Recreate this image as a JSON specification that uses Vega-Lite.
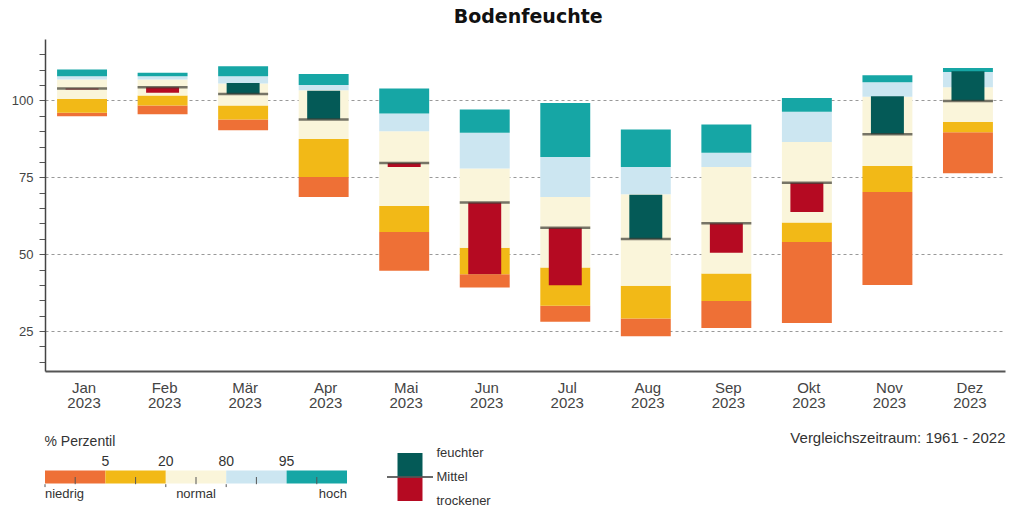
{
  "$schema": "https://vega.github.io/schema/vega-lite/v6.json",
  "background": "white",
  "padding": {"left": 11, "top": 8, "right": 5, "bottom": 5},
  "title": {"text": "Bodenfeuchte", "fontSize": 19, "fontWeight": "bold", "font": "DejaVu Sans", "color": "#111", "anchor": "middle", "offset": 12, "dx": 20},
  "config": {"view": {"stroke": null}, "font": "Liberation Sans"},
  "datasets": {
    "soil": [
      {"month": "Jan", "min": 94.9, "p5": 96.0, "p20": 100.5, "p80": 106.8, "p95": 107.9, "max": 110.1, "median": 103.9, "value": 103.6},
      {"month": "Feb", "min": 95.5, "p5": 98.4, "p20": 101.6, "p80": 106.8, "p95": 107.9, "max": 109.0, "median": 104.3, "value": 102.5},
      {"month": "Mär", "min": 90.3, "p5": 93.8, "p20": 98.4, "p80": 105.5, "p95": 107.9, "max": 111.1, "median": 102.1, "value": 105.7},
      {"month": "Apr", "min": 68.6, "p5": 75.1, "p20": 87.5, "p80": 103.3, "p95": 105.0, "max": 108.6, "median": 93.8, "value": 103.2},
      {"month": "Mai", "min": 44.6, "p5": 57.2, "p20": 65.7, "p80": 90.0, "p95": 95.8, "max": 103.9, "median": 79.7, "value": 78.4},
      {"month": "Jun", "min": 39.2, "p5": 43.5, "p20": 52.1, "p80": 77.9, "p95": 89.5, "max": 97.1, "median": 66.8, "value": 43.5},
      {"month": "Jul", "min": 28.0, "p5": 33.2, "p20": 45.7, "p80": 68.6, "p95": 81.6, "max": 99.2, "median": 58.6, "value": 39.9},
      {"month": "Aug", "min": 23.3, "p5": 29.1, "p20": 39.7, "p80": 69.5, "p95": 78.4, "max": 90.6, "median": 54.9, "value": 69.3},
      {"month": "Sep", "min": 26.0, "p5": 34.8, "p20": 43.7, "p80": 78.4, "p95": 83.0, "max": 92.2, "median": 60.1, "value": 50.5},
      {"month": "Okt", "min": 27.6, "p5": 54.0, "p20": 60.3, "p80": 86.5, "p95": 96.3, "max": 100.8, "median": 73.2, "value": 63.7},
      {"month": "Nov", "min": 40.0, "p5": 70.2, "p20": 78.7, "p80": 101.2, "p95": 105.9, "max": 108.2, "median": 89.0, "value": 101.4},
      {"month": "Dez", "min": 76.3, "p5": 89.7, "p20": 93.0, "p80": 104.3, "p95": 109.3, "max": 110.6, "median": 99.8, "value": 109.5}
    ],
    "pct": [
      {"cls": "P5", "upper": "5", "name": "niedrig"},
      {"cls": "P20", "upper": "20", "name": ""},
      {"cls": "P80", "upper": "80", "name": "normal"},
      {"cls": "P95", "upper": "95", "name": ""},
      {"cls": "P100", "upper": "", "name": "hoch"}
    ],
    "dev": [
      {"kind": "feuchter", "dev": 1},
      {"kind": "Mittel", "dev": 0},
      {"kind": "trockener", "dev": -1}
    ]
  },
  "vconcat": [
    {
      "width": 960,
      "height": 332,
      "data": {"name": "soil"},
      "encoding": {
        "x": {
          "field": "month", "type": "nominal", "sort": null,
          "scale": {"paddingInner": 0.38, "paddingOuter": 0.15},
          "axis": {
            "title": "Vergleichszeitraum: 1961 - 2022", "titleAnchor": "end", "titleFontWeight": "normal", "titleFontSize": 15, "titleColor": "#333", "titlePadding": 20,
            "labelExpr": "[datum.label, '2023']", "labelFontSize": 15, "labelColor": "#444", "labelLineHeight": 15, "labelAngle": 0, "labelOffset": 2,
            "ticks": false, "domainColor": "#555", "domainWidth": 2, "labelPadding": 9
          }
        }
      },
      "layer": [
        {
          "mark": {"type": "bar", "color": "#EE7036"},
          "encoding": {
            "y": {
              "field": "min", "type": "quantitative",
              "scale": {"domain": [12, 120], "nice": false, "zero": false},
              "axis": {
                "title": null,
                "values": [15, 20, 25, 30, 35, 40, 45, 50, 55, 60, 65, 70, 75, 80, 85, 90, 95, 100, 105, 110, 115],
                "tickCount": 40,
                "labelExpr": "datum.value % 25 === 0 ? datum.label : ''",
                "labelOverlap": false,
                "grid": true,
                "gridOpacity": {"condition": {"test": "datum.value % 25 === 0", "value": 1}, "value": 0},
                "gridDash": [3, 3], "gridColor": "#999",
                "tickSize": 6, "tickColor": "#555", "domainColor": "#444", "domainWidth": 1.5,
                "labelFontSize": 13, "labelColor": "#444", "labelPadding": 6
              }
            },
            "y2": {"field": "p5"}
          }
        },
        {"mark": {"type": "bar", "color": "#F2B917"}, "encoding": {"y": {"field": "p5", "type": "quantitative"}, "y2": {"field": "p20"}}},
        {"mark": {"type": "bar", "color": "#FAF5DA"}, "encoding": {"y": {"field": "p20", "type": "quantitative"}, "y2": {"field": "p80"}}},
        {"mark": {"type": "bar", "color": "#CCE6F1"}, "encoding": {"y": {"field": "p80", "type": "quantitative"}, "y2": {"field": "p95"}}},
        {"mark": {"type": "bar", "color": "#16A6A5"}, "encoding": {"y": {"field": "p95", "type": "quantitative"}, "y2": {"field": "max"}}},
        {
          "mark": {"type": "bar", "width": {"band": 0.66}},
          "encoding": {
            "y": {"field": "median", "type": "quantitative"},
            "y2": {"field": "value"},
            "color": {"condition": {"test": "datum.value >= datum.median", "value": "#045a57"}, "value": "#b50a22"}
          }
        },
        {
          "mark": {"type": "tick", "color": "#3d3d35", "thickness": 2.5, "size": 50},
          "encoding": {"y": {"field": "median", "type": "quantitative"}}
        }
      ]
    },
    {
      "hconcat": [
        {
          "width": 302,
          "height": 48,
          "data": {"name": "pct"},
          "title": {"text": "% Perzentil", "anchor": "start", "fontSize": 14, "fontWeight": "normal", "color": "#333", "offset": 4},
          "encoding": {
            "x": {"field": "cls", "type": "nominal", "sort": null, "scale": {"paddingInner": 0, "paddingOuter": 0}, "axis": null}
          },
          "layer": [
            {
              "mark": {"type": "rect"},
              "encoding": {
                "y": {"datum": -0.27, "type": "quantitative", "scale": {"domain": [-1, 1], "nice": false}, "axis": null},
                "y2": {"datum": 0.27},
                "color": {
                  "field": "cls", "type": "nominal", "sort": null,
                  "scale": {"domain": ["P5", "P20", "P80", "P95", "P100"], "range": ["#EE7036", "#F2B917", "#FAF5DA", "#CCE6F1", "#16A6A5"]},
                  "legend": null
                }
              }
            },
            {
              "mark": {"type": "rule", "color": "#555", "strokeWidth": 1},
              "encoding": {"y": {"datum": -0.3, "type": "quantitative"}}
            },
            {
              "transform": [{"filter": "datum.cls == 'P5' || datum.cls == 'P80' || datum.cls == 'P95'"}],
              "mark": {"type": "rule", "color": "#555", "strokeWidth": 1},
              "encoding": {
                "x": {"field": "cls", "type": "nominal", "sort": null, "bandPosition": 0},
                "y": {"datum": -0.3, "type": "quantitative"},
                "y2": {"datum": -0.42}
              }
            },
            {
              "mark": {"type": "text", "align": "center", "baseline": "middle", "fontSize": 14, "color": "#333"},
              "encoding": {
                "x": {"field": "cls", "type": "nominal", "sort": null, "bandPosition": 1},
                "y": {"datum": 0.62, "type": "quantitative"},
                "text": {"field": "upper"}
              }
            },
            {
              "transform": [{"filter": "datum.cls == 'P80'"}],
              "mark": {"type": "text", "align": "center", "baseline": "middle", "fontSize": 13, "color": "#333"},
              "encoding": {
                "y": {"datum": -0.71, "type": "quantitative"},
                "text": {"field": "name"}
              }
            },
            {
              "transform": [{"filter": "datum.cls == 'P5'"}],
              "mark": {"type": "text", "align": "left", "baseline": "middle", "fontSize": 13, "color": "#333"},
              "encoding": {
                "x": {"field": "cls", "type": "nominal", "sort": null, "bandPosition": 0},
                "y": {"datum": -0.71, "type": "quantitative"},
                "text": {"field": "name"}
              }
            },
            {
              "transform": [{"filter": "datum.cls == 'P100'"}],
              "mark": {"type": "text", "align": "right", "baseline": "middle", "fontSize": 13, "color": "#333"},
              "encoding": {
                "x": {"field": "cls", "type": "nominal", "sort": null, "bandPosition": 1},
                "y": {"datum": -0.71, "type": "quantitative"},
                "text": {"field": "name"}
              }
            }
          ]
        },
        {
          "width": 46,
          "height": 48,
          "data": {"name": "dev"},
          "layer": [
            {
              "transform": [{"filter": "datum.kind != 'Mittel'"}],
              "mark": {"type": "rect"},
              "encoding": {
                "x": {"datum": "Mittel", "type": "nominal", "scale": {"paddingInner": 0, "paddingOuter": 0.42}, "axis": null},
                "y": {"field": "dev", "type": "quantitative", "scale": {"domain": [-1, 1], "nice": false}, "axis": null},
                "y2": {"datum": 0},
                "color": {"field": "kind", "type": "nominal", "scale": {"domain": ["feuchter", "trockener"], "range": ["#045a57", "#b50a22"]}, "legend": null}
              }
            },
            {
              "mark": {"type": "rule", "color": "#555"},
              "encoding": {"y": {"datum": 0, "type": "quantitative"}}
            },
            {
              "mark": {"type": "text", "align": "left", "baseline": "middle", "dx": 14, "fontSize": 13, "color": "#333"},
              "encoding": {
                "x": {"datum": "Mittel", "type": "nominal", "bandPosition": 1, "axis": null},
                "y": {"field": "dev", "type": "quantitative"},
                "text": {"field": "kind"}
              }
            }
          ]
        }
      ],
      "spacing": 40,
      "bounds": "flush",
      "resolve": {"scale": {"color": "independent"}}
    }
  ],
  "spacing": 82,
  "bounds": "flush"
}
